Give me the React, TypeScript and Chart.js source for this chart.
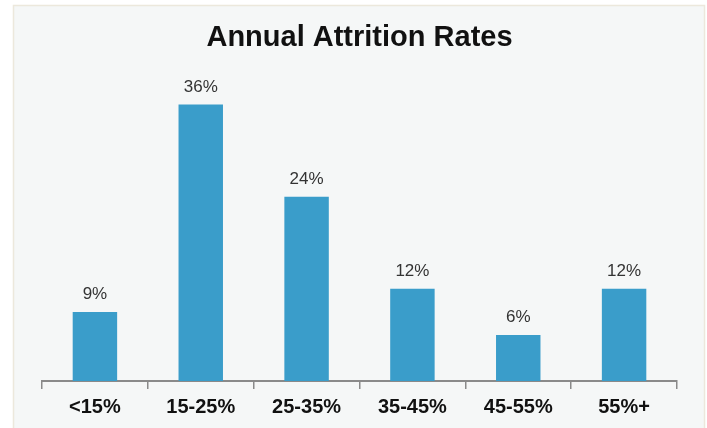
import React, { useEffect, useRef } from "react";
import { Chart, registerables } from "chart.js";

Chart.register(...registerables);

const categories = ["<15%", "15-25%", "25-35%", "35-45%", "45-55%", "55%+"];
const rates = [9, 36, 24, 12, 6, 12];
const titleText = "Annual Attrition Rates";

const FONT = "'Liberation Sans', Arial, sans-serif";

const panelPlugin = {
  id: "panel",
  beforeDraw(chart: any) {
    const ctx = chart.ctx;
    ctx.save();
    ctx.fillStyle = "#ffffff";
    ctx.fillRect(0, 0, chart.width, chart.height);
    ctx.fillStyle = "#f5f7f7";
    ctx.fillRect(13, 5, 692, 423);
    ctx.strokeStyle = "#ece8dc";
    ctx.lineWidth = 1.5;
    ctx.strokeRect(13.5, 5.5, 691, 430);
    ctx.restore();
  },
};

const valueLabelPlugin = {
  id: "valueLabels",
  afterDatasetsDraw(chart: any) {
    const ctx = chart.ctx;
    const meta = chart.getDatasetMeta(0);
    ctx.save();
    ctx.font = `17px ${FONT}`;
    ctx.fillStyle = "#333333";
    ctx.textAlign = "center";
    ctx.textBaseline = "alphabetic";
    meta.data.forEach((bar: any, i: number) => {
      ctx.fillText(`${rates[i]}%`, bar.x, bar.y - 13);
    });
    ctx.restore();
  },
};

export default function App() {
  const ref = useRef<HTMLCanvasElement | null>(null);

  useEffect(() => {
    if (!ref.current) return;
    const chart = new Chart(ref.current, {
      type: "bar",
      data: {
        labels: categories,
        datasets: [
          {
            data: rates,
            backgroundColor: "#3a9dca",
            borderWidth: 0,
            categoryPercentage: 1,
            barPercentage: 0.42,
          },
        ],
      },
      options: {
        animation: false,
        responsive: false,
        layout: { padding: { left: 42, right: 30, top: 0, bottom: 3 } },
        plugins: {
          legend: { display: false },
          tooltip: { enabled: false },
          title: {
            display: true,
            text: titleText,
            color: "#111111",
            font: { family: FONT, size: 29, weight: "bold" },
            padding: { top: 21, bottom: 18 },
          },
        },
        scales: {
          x: {
            offset: true,
            grid: {
              offset: true,
              drawOnChartArea: false,
              drawTicks: true,
              tickLength: 8,
              color: "#8a8a8a",
              lineWidth: 1.5,
            },
            border: { display: true, color: "#8a8a8a", width: 2 },
            ticks: {
              color: "#111111",
              font: { family: FONT, size: 20, weight: "bold" },
              padding: 6,
              maxRotation: 0,
            },
          },
          y: {
            display: false,
            min: 0,
            max: 40,
          },
        },
      },
      plugins: [panelPlugin, valueLabelPlugin],
    });
    return () => chart.destroy();
  }, []);

  return (
    <div style={{ position: "fixed", left: 0, top: 0, width: 707, height: 428, background: "#fff" }}>
      <canvas ref={ref} width={707} height={428} style={{ display: "block" }} />
    </div>
  );
}
